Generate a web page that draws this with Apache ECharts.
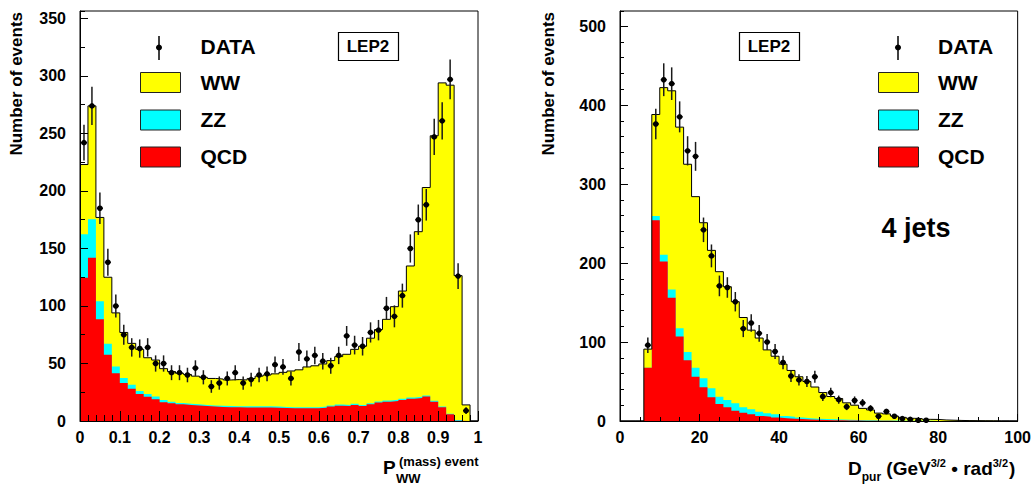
<!DOCTYPE html>
<html>
<head>
<meta charset="utf-8">
<script src="https://cdn.jsdelivr.net/npm/echarts@6/dist/echarts.min.js"></script>
<style>
  html, body { margin: 0; padding: 0; background: #fff; }
  #chart { width: 1034px; height: 486px; }
</style>
</head>
<body>
<div id="chart"></div>
<script>
// ---- P_WW^(mass) event : 50 bins of width 0.02 on [0, 1] ----
const pwwBinWidth = 0.02;
const pwwQCD = [124.5, 142, 88.5, 57.5, 41.5, 33, 28, 23.5, 21, 19,
                16.2, 15.4, 14.5, 13.9, 13.5, 13, 12.5, 12.2, 12, 11.9,
                11.8, 11.8, 11.8, 11.8, 11.5, 11.2, 11, 11, 11, 11,
                11.6, 12.5, 13.3, 13, 13.9, 13, 14.5, 16, 16.8, 17.4,
                18.3, 19.4, 20, 21.2, 16.8, 11.9, 5.8, 0.3, 0, 0];
const pwwZZ  = [37.8, 33.5, 15.6, 9.6, 5.8, 4.3, 3.5, 2.5, 2.4, 2.2,
                2.1, 1.4, 1.2, 1.2, 1.1, 1, 1, 1, 1, 1,
                1, 1, 1, 1, 1, 1, 1, 1, 1, 1,
                1, 1, 1, 1, 1, 1, 1, 1, 1, 1,
                1, 1, 1, 0.9, 0.8, 0.6, 0.4, 0.6, 0, 0];
const pwwWW  = [60.7, 98.5, 72.9, 57.9, 46.7, 39.7, 36, 36.3, 31.6, 31.8,
                27.2, 26.2, 25.8, 25.4, 24.4, 24, 23.5, 23.3, 22.7, 23.1,
                22.9, 24.2, 26.2, 27.2, 28.5, 30.1, 31.5, 32.5, 35, 36,
                37, 39, 41.7, 44, 47.4, 51, 56.5, 62.5, 70.6, 81,
                93.7, 114.4, 143.6, 180.9, 230.4, 281.5, 285.8, 125.5, 14, 0];
const pwwData = [242, 274, 185, 138, 100, 75, 64, 63, 64, 50,
                 50, 42, 42, 40, 46, 38, 30, 33, 37, 42,
                 33, 36, 40, 41, 49, 47, 37, 60, 54, 57,
                 52, 48, 57, 74, 66, 65, 77, 79, 98, 91,
                 109, 150, 175, 188, 247, 261, 297, 126, 9, null];

// ---- D_pur : 50 bins of width 2 on [0, 100] ----
const dpurBinWidth = 2;
const dpurQCD = [0, 0, 0, 67.5, 254, 202, 156, 107, 77, 56,
                 42.6, 30, 21.5, 17.3, 13, 10.5, 8.4, 6.3, 5.5, 4.3,
                 3.5, 3, 2.5, 2, 1.6, 1.3, 1, 0.8, 0.6, 0.5,
                 0.4, 0.3, 0.2, 0.2, 0.1, 0.1, 0, 0, 0, 0,
                 0, 0, 0, 0, 0, 0, 0, 0, 0, 0];
const dpurZZ  = [0, 0, 0, 0, 5.5, 8.5, 10.5, 10.5, 10.5, 11.5,
                 11.5, 11.4, 9.3, 9.3, 9.4, 6.8, 6.4, 5.5, 4.2, 4.1,
                 2.8, 2.5, 1.8, 1.6, 1.4, 1.2, 1.1, 1, 0.9, 0.8,
                 0.7, 0.6, 0.5, 0.5, 0.4, 0.3, 0.3, 0.2, 0.2, 0.1,
                 0.1, 0.1, 0, 0, 0, 0, 0, 0, 0, 0];
const dpurWW  = [0, 0, 0, 23.5, 128.5, 211.5, 251.5, 254.5, 237.5, 216.5,
                 196.9, 174.6, 158.2, 143.4, 128.6, 113.7, 100.2, 93.2, 80.3, 73.6,
                 65.7, 58.5, 51.7, 46.4, 40, 33.5, 28.9, 26.7, 21.5, 18.7,
                 14.9, 13.1, 9.3, 8.3, 5.8, 4.2, 3.1, 2.8, 1.9, 1.9,
                 1.2, 0.9, 0.7, 0.5, 0.4, 0.3, 0.2, 0.1, 0.1, 0];
const dpurData = [null, null, null, 96, 376, 432, 427, 385, 342, 335,
                  242, 209, 171, 169, 151, 117, 124, 111, 100, 88,
                  74, 57, 52, 50, 56, 31, 36, 27, 18, 26,
                  23, 16, 6, 12, 6, 3, 2, 1, 1, null,
                  null, null, null, null, null, null, null, null, null, null];

const legendLabels = ['DATA', 'WW', 'ZZ', 'QCD'];
const panelLabel = 'LEP2';
const jetLabel = '4 jets';
const yTitle = 'Number of events';

const FONT = '"Liberation Sans", Arial, Helvetica, sans-serif';
const COLORS = { WW: '#ffff00', ZZ: '#00ffff', QCD: '#ff0000' };

// running sums of the components, bottom (QCD) to top (WW)
function addArrays(a, b) { return a.map((v, i) => v + b[i]); }

// histogram bins as step points: left edge of each bin plus the closing edge
function stepPoints(values, width) {
  const pts = values.map((v, i) => [i * width, v]);
  pts.push([values.length * width, values[values.length - 1]]);
  pts.push([values.length * width, 0]);
  return pts;
}

// data points at bin centres with Poisson errors
function dataPoints(counts, width) {
  const out = [];
  counts.forEach((c, i) => {
    if (c != null) out.push([(i + 0.5) * width, c, Math.sqrt(c)]);
  });
  return out;
}

function renderDataPoint(params, api) {
  const x = api.value(0), y = api.value(1), e = api.value(2);
  const p = api.coord([x, y]);
  const lo = api.coord([x, Math.max(0, y - e)]);
  const hi = api.coord([x, y + e]);
  return {
    type: 'group',
    children: [
      { type: 'line', shape: { x1: p[0], y1: hi[1], x2: p[0], y2: lo[1] },
        style: { stroke: '#1a1a1a', lineWidth: 1.5 } },
      { type: 'line', shape: { x1: p[0] - 3, y1: p[1], x2: p[0] + 3, y2: p[1] },
        style: { stroke: '#000', lineWidth: 1.5 } },
      { type: 'circle', shape: { cx: p[0], cy: p[1], r: 2.8 }, style: { fill: '#000' } }
    ]
  };
}

// filled histogram drawn from zero; higher cumulative layers go underneath
function fillSeries(values, width, xi, yi, color, z) {
  return {
    type: 'line', step: 'end', xAxisIndex: xi, yAxisIndex: yi,
    data: stepPoints(values, width),
    symbol: 'none', showSymbol: false, silent: true,
    itemStyle: { color: color },
    lineStyle: { width: 0, opacity: 0 },
    areaStyle: { color: color, opacity: 1, origin: 'start' },
    z: z
  };
}

function outlineSeries(values, width, xi, yi) {
  return {
    type: 'line', step: 'end', xAxisIndex: xi, yAxisIndex: yi,
    data: stepPoints(values, width),
    symbol: 'none', showSymbol: false, silent: true,
    lineStyle: { color: '#000', width: 1 },
    z: 4
  };
}

function dataSeries(counts, width, xi, yi) {
  return {
    type: 'custom', xAxisIndex: xi, yAxisIndex: yi,
    data: dataPoints(counts, width),
    encode: { x: 0, y: 1 },
    renderItem: renderDataPoint,
    silent: true, z: 5
  };
}

function histogramSeries(qcd, zz, ww, counts, width, xi, yi) {
  const lowTwo = addArrays(qcd, zz);
  const total = addArrays(lowTwo, ww);
  return [
    fillSeries(total, width, xi, yi, COLORS.WW, 1),
    fillSeries(lowTwo, width, xi, yi, COLORS.ZZ, 2),
    fillSeries(qcd, width, xi, yi, COLORS.QCD, 3),
    outlineSeries(total, width, xi, yi),
    dataSeries(counts, width, xi, yi)
  ];
}

const labelStyle = { fontSize: 16, fontWeight: 'bold', color: '#000', fontFamily: FONT };

function xAxisCfg(grid, max, interval, minorSplit, majorLen, minorLen) {
  return {
    gridIndex: grid, type: 'value', min: 0, max: max, interval: interval,
    axisLine: { show: true, lineStyle: { color: '#000', width: 1 } },
    axisTick: { show: true, inside: true, length: majorLen, lineStyle: { color: '#000', width: 1 } },
    minorTick: { show: true, splitNumber: minorSplit, length: minorLen, lineStyle: { color: '#000', width: 1 } },
    axisLabel: Object.assign({ margin: 8 }, labelStyle),
    splitLine: { show: false }, minorSplitLine: { show: false },
    z: 10
  };
}

function yAxisCfg(grid, max, interval, len, withLabels) {
  return {
    gridIndex: grid, type: 'value', position: 'left', min: 0, max: max, interval: interval,
    axisLine: { show: withLabels, lineStyle: { color: '#000', width: 1 } },
    axisTick: { show: true, inside: true, length: len, lineStyle: { color: '#000', width: 1 } },
    axisLabel: withLabels ? Object.assign({ margin: 14, showMaxLabel: false }, labelStyle) : { show: false },
    splitLine: { show: false },
    z: 10
  };
}

// text width helper for composing titles with sub/superscripts
const measureCtx = document.createElement('canvas').getContext('2d');
function textWidth(str, size) {
  measureCtx.font = 'bold ' + size + 'px ' + FONT;
  return measureCtx.measureText(str).width;
}
function txt(str, x, y, size, align, extra) {
  return Object.assign({
    type: 'text', x: x, y: y, z: 100,
    style: { text: str, fontSize: size, fontWeight: 'bold', fontFamily: FONT, fill: '#000',
             align: align || 'left', verticalAlign: 'middle' }
  }, extra || {});
}
function chain(x0, parts) {
  let x = x0;
  return parts.map(p => {
    x += (p.gap || 0);
    const el = txt(p.t, x, p.y, p.s);
    x += textWidth(p.t, p.s);
    return el;
  });
}

function legendBlock(markerX, boxX, textX) {
  const rows = [46.5, 82, 119.5, 156.5];
  const els = [];
  els.push({ type: 'line', z: 100, shape: { x1: markerX, y1: 36, x2: markerX, y2: 60 },
             style: { stroke: '#000', lineWidth: 1.5 } });
  els.push({ type: 'circle', z: 100, shape: { cx: markerX, cy: 47.5, r: 3 }, style: { fill: '#000' } });
  const fills = [COLORS.WW, COLORS.ZZ, COLORS.QCD];
  for (let i = 0; i < 3; i++) {
    els.push({ type: 'rect', z: 100, shape: { x: boxX + 0.5, y: rows[i + 1] - 10 + 0.5, width: 40, height: 20 },
               style: { fill: fills[i], stroke: '#222', lineWidth: 1 } });
  }
  legendLabels.forEach((l, i) => els.push(txt(l, textX, rows[i], 21)));
  return els;
}

function labelBox(x, y) {
  return [
    { type: 'rect', z: 100, shape: { x: x + 0.5, y: y + 0.5, width: 60, height: 28 },
      style: { fill: '#fff', stroke: '#000', lineWidth: 1.2 } },
    txt(panelLabel, x + 30, y + 14.5, 17, 'center')
  ];
}

const graphics = [].concat(
  // y-axis titles
  [txt(yTitle, 16.5, 12, 17, 'right', { rotation: Math.PI / 2 }),
   txt(yTitle, 548, 12, 17, 'right', { rotation: Math.PI / 2 })],
  legendBlock(159, 140, 200.5),
  legendBlock(898, 878, 938),
  labelBox(338, 32),
  labelBox(739, 32),
  [txt(jetLabel, 916, 228, 27, 'center')],
  // x title, left panel: P_WW^(mass) event
  [txt('P', 383, 467, 19), txt('(mass) event', 399, 461, 13), txt('WW', 396, 478, 13)],
  // x title, right panel: D_pur (GeV^3/2 • rad^3/2)
  chain(848, [
    { t: 'D', s: 19, y: 468 },
    { t: 'pur', s: 12, y: 477, gap: 0 },
    { t: ' (GeV', s: 19, y: 468 },
    { t: '3/2', s: 11, y: 463 },
    { t: ' \u2022 rad', s: 19, y: 468 },
    { t: '3/2', s: 11, y: 463 },
    { t: ')', s: 19, y: 468, gap: 1 }
  ])
);

const chart = echarts.init(document.getElementById('chart'), null, { renderer: 'svg' });
chart.setOption({
  animation: false,
  backgroundColor: '#fff',
  grid: [
    { left: 80, top: 11, width: 398, height: 410, show: true, borderColor: '#000', borderWidth: 1, backgroundColor: 'transparent' },
    { left: 620, top: 11, width: 398, height: 410, show: true, borderColor: '#000', borderWidth: 1, backgroundColor: 'transparent' }
  ],
  xAxis: [
    xAxisCfg(0, 1, 0.1, 5, 10, 6),
    xAxisCfg(1, 100, 20, 4, 7, 4)
  ],
  yAxis: [
    yAxisCfg(0, 356.5, 50, 8, true),
    yAxisCfg(0, 356.5, 25, 5, false),
    yAxisCfg(1, 519, 100, 8, true),
    yAxisCfg(1, 519, 20, 4, false)
  ],
  series: [].concat(
    histogramSeries(pwwQCD, pwwZZ, pwwWW, pwwData, pwwBinWidth, 0, 0),
    histogramSeries(dpurQCD, dpurZZ, dpurWW, dpurData, dpurBinWidth, 1, 2)
  ),
  graphic: { elements: graphics }
});
</script>
</body>
</html>
